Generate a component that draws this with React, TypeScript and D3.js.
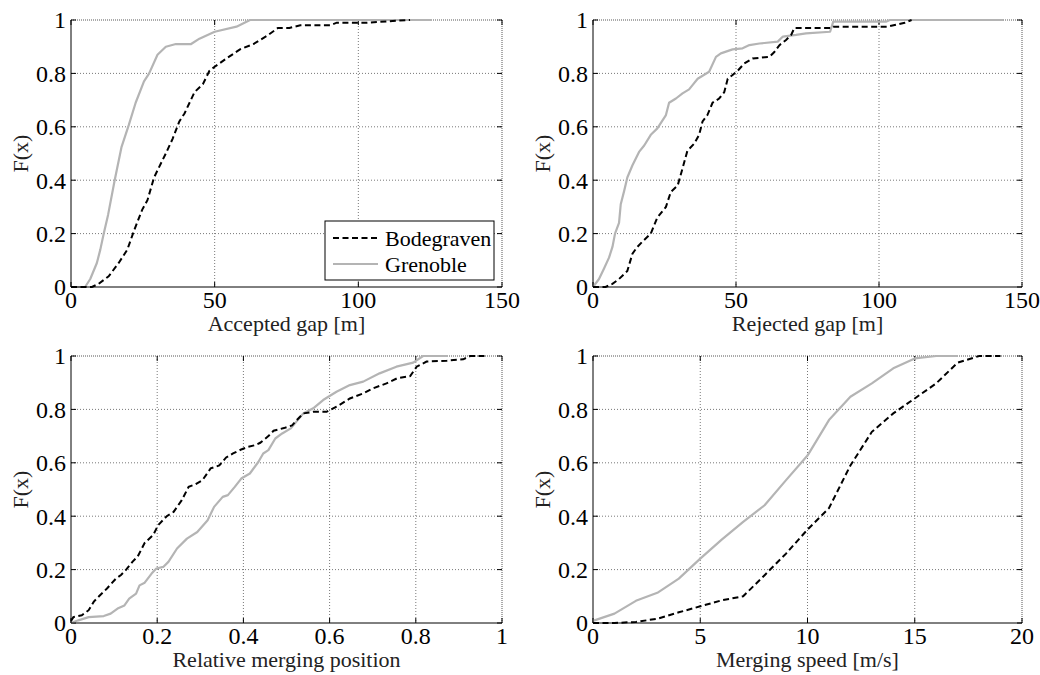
import React from "react";
import * as d3 from "d3";

// ---------- Data ----------
const accBodeX = [0, 7.3, 9.6, 13.1, 16.6, 19.6, 21.9, 24.8, 26.6, 28.9, 30.7, 33, 35.4, 37.7, 39.5, 43, 45.9, 48.2, 50, 54.1, 58.8, 63.5, 68.1, 72, 76, 79.8, 90.2, 92.5, 103, 110, 118];
const accBodeY = [0, 0, 0.012, 0.04, 0.09, 0.14, 0.21, 0.29, 0.325, 0.41, 0.45, 0.5, 0.556, 0.62, 0.65, 0.73, 0.76, 0.81, 0.825, 0.856, 0.89, 0.91, 0.94, 0.97, 0.97, 0.98, 0.98, 0.99, 0.99, 0.995, 1.0];
const accGrenX = [0, 4.9, 6.7, 9.0, 10.2, 11.4, 12.9, 15.2, 17.6, 20.1, 22.5, 25.4, 27.2, 30.1, 33, 36.5, 41.8, 44.7, 50, 57.6, 62.3, 125.6];
const accGrenY = [0, 0, 0.03, 0.09, 0.14, 0.2, 0.27, 0.4, 0.525, 0.606, 0.69, 0.77, 0.8, 0.87, 0.9, 0.91, 0.91, 0.93, 0.956, 0.975, 1.0, 1.0];

const rejBodeX = [0, 4.4, 6.8, 9.1, 12, 13.8, 15.5, 17.3, 20.2, 22.5, 25.5, 27.2, 29.6, 31.3, 33, 35.4, 37.1, 38.3, 40, 41.8, 44.1, 45.9, 47.1, 48.8, 50.6, 52.9, 55.8, 61.7, 63.4, 65.2, 67.5, 69.3, 70.4, 83.4, 84, 103, 109, 111.4];
const rejBodeY = [0, 0, 0.012, 0.03, 0.06, 0.125, 0.15, 0.17, 0.2, 0.26, 0.3, 0.356, 0.38, 0.444, 0.51, 0.537, 0.57, 0.62, 0.644, 0.69, 0.706, 0.73, 0.78, 0.794, 0.81, 0.837, 0.856, 0.862, 0.88, 0.906, 0.925, 0.944, 0.97, 0.97, 0.975, 0.975, 0.99, 1.0];
const rejGrenX = [0, 2.1, 3.9, 5.6, 6.8, 7.7, 9.1, 9.7, 10.9, 12, 13.8, 16.1, 17.9, 20.2, 22.5, 25.5, 26.6, 29, 31.3, 33.6, 34.8, 36.6, 40.6, 43, 44.7, 48.8, 52.3, 54.7, 58.2, 64.6, 66.4, 71, 74.5, 82.9, 84, 102.6, 103.8, 143.4];
const rejGrenY = [0, 0.03, 0.07, 0.11, 0.15, 0.2, 0.24, 0.31, 0.36, 0.41, 0.456, 0.506, 0.53, 0.57, 0.594, 0.644, 0.69, 0.706, 0.725, 0.74, 0.756, 0.78, 0.806, 0.862, 0.875, 0.89, 0.894, 0.906, 0.912, 0.919, 0.938, 0.944, 0.95, 0.956, 0.994, 0.994, 1.0, 1.0];

const posBodeX = [0, 0.0055, 0.025, 0.041, 0.053, 0.065, 0.084, 0.104, 0.116, 0.128, 0.143, 0.155, 0.171, 0.191, 0.202, 0.222, 0.238, 0.257, 0.273, 0.289, 0.305, 0.324, 0.344, 0.36, 0.376, 0.395, 0.411, 0.427, 0.439, 0.458, 0.47, 0.494, 0.513, 0.524, 0.539, 0.562, 0.593, 0.616, 0.647, 0.678, 0.701, 0.732, 0.756, 0.787, 0.802, 0.825, 0.872, 0.91, 0.926, 0.964];
const posBodeY = [0.008, 0.022, 0.029, 0.048, 0.08, 0.1, 0.13, 0.166, 0.18, 0.2, 0.23, 0.25, 0.3, 0.33, 0.366, 0.4, 0.416, 0.46, 0.51, 0.52, 0.535, 0.579, 0.59, 0.62, 0.635, 0.65, 0.66, 0.666, 0.675, 0.7, 0.72, 0.73, 0.74, 0.76, 0.785, 0.791, 0.791, 0.81, 0.841, 0.86, 0.879, 0.8975, 0.916, 0.925, 0.96, 0.979, 0.9825, 0.9875, 1.0, 1.0];
const posGrenX = [0, 0.017, 0.041, 0.076, 0.092, 0.108, 0.124, 0.135, 0.151, 0.159, 0.171, 0.187, 0.198, 0.214, 0.226, 0.246, 0.269, 0.293, 0.317, 0.332, 0.352, 0.364, 0.38, 0.395, 0.415, 0.435, 0.446, 0.458, 0.474, 0.49, 0.51, 0.539, 0.562, 0.585, 0.616, 0.647, 0.678, 0.716, 0.755, 0.794, 0.817, 0.874];
const posGrenY = [0, 0.01, 0.022, 0.026, 0.035, 0.054, 0.066, 0.091, 0.11, 0.141, 0.151, 0.185, 0.204, 0.21, 0.229, 0.279, 0.316, 0.341, 0.385, 0.435, 0.4725, 0.479, 0.51, 0.541, 0.56, 0.604, 0.635, 0.6475, 0.691, 0.71, 0.729, 0.785, 0.804, 0.835, 0.866, 0.891, 0.904, 0.935, 0.96, 0.975, 1.0, 1.0];

const spdX = [0, 1, 2, 3, 4, 5, 6, 7, 8, 9, 10, 11, 12, 13, 14, 15, 16, 17, 18, 19];
const spdBodeY = [0, 0, 0.004, 0.016, 0.04, 0.0625, 0.085, 0.1, 0.179, 0.26, 0.35, 0.43, 0.59, 0.716, 0.785, 0.841, 0.8975, 0.975, 1.0, 1.0];
const spdGrenY = [0.008, 0.035, 0.083, 0.113, 0.166, 0.241, 0.3125, 0.379, 0.441, 0.535, 0.627, 0.76, 0.8475, 0.8975, 0.954, 0.991, 1.0, 1.0];

const yTicks = [0, 0.2, 0.4, 0.6, 0.8, 1];
const gapTicks = [0, 50, 100, 150];
const posTicks = [0, 0.2, 0.4, 0.6, 0.8, 1];
const spdTicks = [0, 5, 10, 15, 20];
const seriesNames = ["Bodegraven", "Grenoble"];
const yLabel = "F(x)";

type Panel = {
  left: number; right: number; top: number; bottom: number;
  xMax: number; xTicks: number[]; xLabel: string;
  bode: [number, number][]; gren: [number, number][];
  legend?: boolean;
};

const zip = (xs: number[], ys: number[]): [number, number][] => ys.map((y, i) => [xs[i], y]);

const panels: Panel[] = [
  { left: 71, right: 502, top: 20, bottom: 287, xMax: 150, xTicks: gapTicks, xLabel: "Accepted gap [m]", bode: zip(accBodeX, accBodeY), gren: zip(accGrenX, accGrenY), legend: true },
  { left: 593, right: 1022, top: 20, bottom: 287, xMax: 150, xTicks: gapTicks, xLabel: "Rejected gap [m]", bode: zip(rejBodeX, rejBodeY), gren: zip(rejGrenX, rejGrenY) },
  { left: 71, right: 502, top: 356, bottom: 623, xMax: 1, xTicks: posTicks, xLabel: "Relative merging position", bode: zip(posBodeX, posBodeY), gren: zip(posGrenX, posGrenY) },
  { left: 593, right: 1022, top: 356, bottom: 623, xMax: 20, xTicks: spdTicks, xLabel: "Merging speed [m/s]", bode: zip(spdX, spdBodeY), gren: zip(spdX, spdGrenY) },
];

const FONT = "'Liberation Serif', 'Times New Roman', serif";
const GREY = "#b4b4b4";
const FS = 21;
const TFS = 24;

function PanelView({ p }: { p: Panel }) {
  const x = d3.scaleLinear().domain([0, p.xMax]).range([p.left, p.right]);
  const y = d3.scaleLinear().domain([0, 1]).range([p.bottom, p.top]);
  const line = d3.line<[number, number]>().x(d => x(d[0])).y(d => y(d[1]));
  const fmt = (v: number) => String(v);
  const tk = 5;
  return (
    <g>
      {/* grid */}
      {p.xTicks.slice(1, -1).map(t => (
        <line key={"gx" + t} x1={x(t)} x2={x(t)} y1={p.top} y2={p.bottom} stroke="#555" strokeWidth={0.8} strokeDasharray="1,2" />
      ))}
      {yTicks.slice(1, -1).map(t => (
        <line key={"gy" + t} x1={p.left} x2={p.right} y1={y(t)} y2={y(t)} stroke="#555" strokeWidth={0.8} strokeDasharray="1,2" />
      ))}
      {/* top/right box dotted */}
      <line x1={p.left} x2={p.right} y1={p.top} y2={p.top} stroke="#444" strokeWidth={0.9} strokeDasharray="1,1" />
      <line x1={p.right} x2={p.right} y1={p.top} y2={p.bottom} stroke="#444" strokeWidth={0.9} strokeDasharray="1,1" />
      {/* ticks */}
      {p.xTicks.map(t => (
        <g key={"tx" + t}>
          <line x1={x(t)} x2={x(t)} y1={p.bottom} y2={p.bottom - tk} stroke="#000" strokeWidth={1} />
          <line x1={x(t)} x2={x(t)} y1={p.top} y2={p.top + tk} stroke="#000" strokeWidth={1} />
          <text x={x(t)} y={p.bottom + 21} textAnchor="middle" fontFamily={FONT} fontSize={TFS} fill="#000">{fmt(t)}</text>
        </g>
      ))}
      {yTicks.map(t => (
        <g key={"ty" + t}>
          <line x1={p.left} x2={p.left + tk} y1={y(t)} y2={y(t)} stroke="#000" strokeWidth={1} />
          <line x1={p.right} x2={p.right - tk} y1={y(t)} y2={y(t)} stroke="#000" strokeWidth={1} />
          <text x={p.left - 5} y={y(t)} dy="0.35em" textAnchor="end" fontFamily={FONT} fontSize={TFS} fill="#000">{fmt(t)}</text>
        </g>
      ))}
      {/* series */}
      <path d={line(p.gren) || ""} fill="none" stroke={GREY} strokeWidth={2.2} strokeLinejoin="round" />
      <path d={line(p.bode) || ""} fill="none" stroke="#000" strokeWidth={2} strokeDasharray="6,3.5" />
      {/* axes left/bottom */}
      <line x1={p.left} x2={p.left} y1={p.top} y2={p.bottom} stroke="#000" strokeWidth={1} />
      <line x1={p.left} x2={p.right} y1={p.bottom} y2={p.bottom} stroke="#000" strokeWidth={1} />
      {/* labels */}
      <text x={(p.left + p.right) / 2} y={p.bottom + 44} textAnchor="middle" fontFamily={FONT} fontSize={FS + 1} fill="#222">{p.xLabel}</text>
      <text transform={`translate(${p.left - 43},${(p.top + p.bottom) / 2}) rotate(-90)`} textAnchor="middle" fontFamily={FONT} fontSize={FS + 1} fill="#222">{yLabel}</text>
      {p.legend && (
        <g>
          <rect x={325} y={221} width={169} height={59} fill="#fff" stroke="#000" strokeWidth={1} />
          <line x1={333} x2={378} y1={238} y2={238} stroke="#000" strokeWidth={2} strokeDasharray="6,3.5" />
          <text x={385} y={238} dy="0.35em" fontFamily={FONT} fontSize={FS + 1} fill="#000">{seriesNames[0]}</text>
          <line x1={333} x2={378} y1={264} y2={264} stroke={GREY} strokeWidth={2.2} />
          <text x={385} y={264} dy="0.35em" fontFamily={FONT} fontSize={FS + 1} fill="#000">{seriesNames[1]}</text>
        </g>
      )}
    </g>
  );
}

export default function App() {
  return (
    <svg width={1040} height={675} style={{ position: "absolute", left: 0, top: 0, background: "#fff" }}>
      <rect x={0} y={0} width={1040} height={675} fill="#fff" />
      {panels.map((p, i) => <PanelView key={i} p={p} />)}
    </svg>
  );
}
